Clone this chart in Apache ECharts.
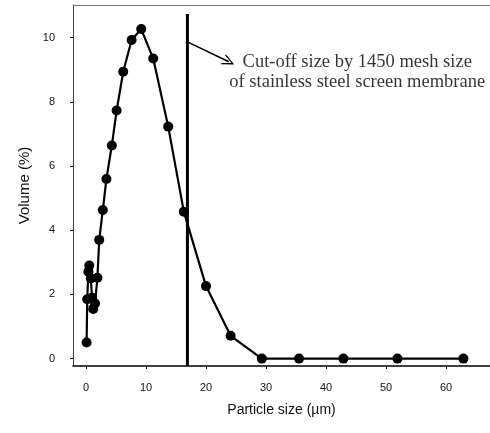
<!DOCTYPE html>
<html><head><meta charset="utf-8">
<script src="https://cdn.jsdelivr.net/npm/echarts@6/dist/echarts.min.js"></script>
<style>html,body{margin:0;padding:0;background:#fff}#c{width:490px;height:433px}</style>
</head><body><div id="c"></div>
<script>
// Particle size distribution data
var sizes  = [0.1, 0.2, 0.4, 0.55, 0.8, 1.0, 1.2, 1.5, 1.9, 2.2, 2.8, 3.4, 4.3, 5.1, 6.2, 7.6, 9.2, 11.2, 13.7, 16.3, 20.0, 24.1, 29.3, 35.5, 42.9, 51.9, 62.9];
var volume = [0.5, 1.85, 2.71, 2.9, 2.5, 1.9, 1.55, 1.72, 2.52, 3.7, 4.63, 5.6, 6.64, 7.73, 8.94, 9.93, 10.27, 9.35, 7.23, 4.58, 2.26, 0.71, 0, 0, 0, 0, 0];
var xTicks = [0, 10, 20, 30, 40, 50, 60];
var yTicks = [0, 2, 4, 6, 8, 10];
var cutoffX = [16.9, 16.9];
var cutoffY = [-0.23, 10.74];
var arrowX = [16.9, 23.8];
var arrowY = [9.87, 9.25];
var noteX = [45.2];
var noteY = [8.94];
var noteText = 'Cut-off size by 1450 mesh size\nof stainless steel screen membrane';

var chart = echarts.init(document.getElementById('c'), null, {renderer: 'canvas'});
var pts = sizes.map(function (x, i) { return [x, volume[i]]; });
var cut = cutoffX.map(function (x, i) { return [x, cutoffY[i]]; });

chart.setOption({
  animation: false,
  backgroundColor: '#fff',
  grid: {left: 73, right: 0, top: 5, bottom: 67},
  xAxis: [{
    type: 'value', min: -2.17, max: 67.33,
    name: 'Particle size (\u00b5m)', nameLocation: 'middle', nameGap: 37,
    nameTextStyle: {fontFamily: 'Liberation Sans', fontSize: 14, color: '#111'},
    axisLine: {show: true, onZero: false, lineStyle: {color: '#000', width: 1.5}},
    axisTick: {show: true, length: 3, customValues: xTicks, lineStyle: {color: '#000'}},
    axisLabel: {customValues: xTicks, margin: 16, fontFamily: 'Liberation Sans', fontSize: 11, color: '#111'},
    splitLine: {show: false}
  }, {
    type: 'value', position: 'top', min: -2.17, max: 67.33,
    axisLine: {show: true, onZero: false, lineStyle: {color: '#777', width: 1}},
    axisTick: {show: false}, axisLabel: {show: false}, splitLine: {show: false}
  }],
  yAxis: {
    type: 'value', min: -0.23, max: 11.02,
    name: 'Volume (%)', nameLocation: 'middle', nameGap: 41, nameRotate: 90,
    nameTextStyle: {fontFamily: 'Liberation Sans', fontSize: 15, color: '#111'},
    axisLine: {show: true, onZero: false, lineStyle: {color: '#444', width: 1}},
    axisTick: {show: true, length: 3, customValues: yTicks, lineStyle: {color: '#000'}},
    axisLabel: {customValues: yTicks, margin: 18, fontFamily: 'Liberation Sans', fontSize: 11, color: '#111'},
    splitLine: {show: false}
  },
  series: [
    {
      type: 'line', data: cut, symbol: 'none',
      lineStyle: {color: '#000', width: 3}, z: 3
    },
    {
      type: 'line', data: pts, symbol: 'circle', symbolSize: 10,
      lineStyle: {color: '#000', width: 2.2}, itemStyle: {color: '#000'}, z: 4,
      markLine: {
        silent: true, animation: false,
        symbol: ['none', 'path://M0,12 L6,0 L12,12 L10.5,12 L6,3 L1.5,12 Z'],
        symbolSize: [11, 12],
        lineStyle: {color: '#000', width: 1.5, type: 'solid'},
        label: {show: false},
        data: [[{coord: [arrowX[0], arrowY[0]]}, {coord: [arrowX[1], arrowY[1]]}]]
      }
    },
    {
      type: 'scatter', data: [[noteX[0], noteY[0]]], symbolSize: 0, silent: true,
      label: {show: true, position: 'inside', formatter: noteText,
        fontFamily: 'Liberation Serif', fontSize: 18.5, lineHeight: 20, color: '#000', align: 'center'}
    }
  ]
});
</script>
</body></html>
